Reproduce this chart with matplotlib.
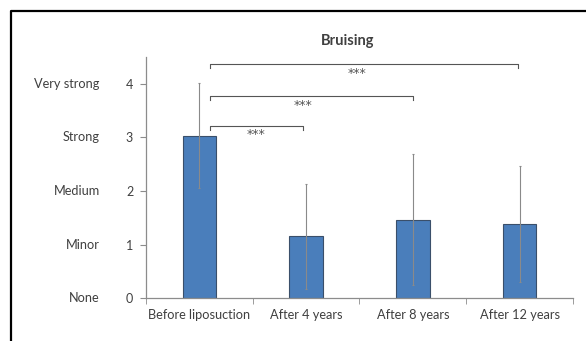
import matplotlib.pyplot as plt
from matplotlib.lines import Line2D

# data
groups = ["Before liposuction", "After 4 years", "After 8 years", "After 12 years"]
means = [3.03, 1.16, 1.47, 1.39]
sds = [0.98, 0.98, 1.22, 1.08]
level_names = ["None", "Minor", "Medium", "Strong", "Very strong"]
level_values = [0, 1, 2, 3, 4]

# significance brackets: (start, end, height, star x, star y)
brackets = [(0.1, 0.97, 3.21, 0.53, 3.05),
            (0.1, 2.0, 3.77, 0.97, 3.60),
            (0.1, 2.98, 4.37, 1.48, 4.20)]

plt.rcParams['font.family'] = ['Lato', 'DejaVu Sans']
txt = '#404040'
axis_col = '#8c8c8c'

fig = plt.figure(figsize=(5.86, 3.41), dpi=100)
ax = fig.add_axes([0.2486, 0.1252, 0.7297, 0.7074])

x = list(range(len(groups)))
ax.bar(x, means, width=0.31, color='#4a7ebb', edgecolor='#3a4f6a', linewidth=0.8, zorder=2)
ax.errorbar(x, means, yerr=sds, fmt='none', ecolor='#8a8a8a', elinewidth=0.8,
            capsize=1, capthick=0.8, zorder=3)

ax.set_xlim(-0.5, 3.5)
ax.set_ylim(0, 4.5)
ax.set_yticks(level_values)
ax.set_xticks([])
ax.set_xticks([-0.5, 0.5, 1.5, 2.5, 3.5], minor=True)
ax.tick_params(axis='x', which='minor', length=4, color=axis_col, direction='out')
ax.tick_params(axis='y', length=4, color=axis_col, labelcolor=txt, labelsize=9, pad=5)
for i, g in enumerate(groups):
    ax.text(i, -0.2, g, ha='center', va='top', fontsize=9.2, color=txt)
for v, name in zip(level_values, level_names):
    ax.text(-0.93, v, name, ha='right', va='center', fontsize=9.2, color=txt)

for s in ['top', 'right']:
    ax.spines[s].set_visible(False)
for s in ['left', 'bottom']:
    ax.spines[s].set_color(axis_col)
    ax.spines[s].set_linewidth(0.9)

for x0, x1, h, sx, sy in brackets:
    ax.plot([x0, x0, x1, x1], [h - 0.07, h, h, h - 0.07], color='#555555', lw=0.8)
    ax.text(sx, sy, '***', ha='center', va='center', fontsize=9, color='#555555',
            family='DejaVu Sans')

fig.text(348 / 586, 1 - 40.7 / 341, 'Bruising', ha='center', va='center',
         fontsize=10.5, fontweight='bold', color=txt)

# black frame on the left and top of the figure
fx = 11 / 586
fy = 1 - 11 / 341
fig.add_artist(Line2D([fx, fx, 1.0], [0.0, fy, fy], transform=fig.transFigure,
                      color='black', linewidth=1.6))

fig.savefig('out.png', dpi=100)
